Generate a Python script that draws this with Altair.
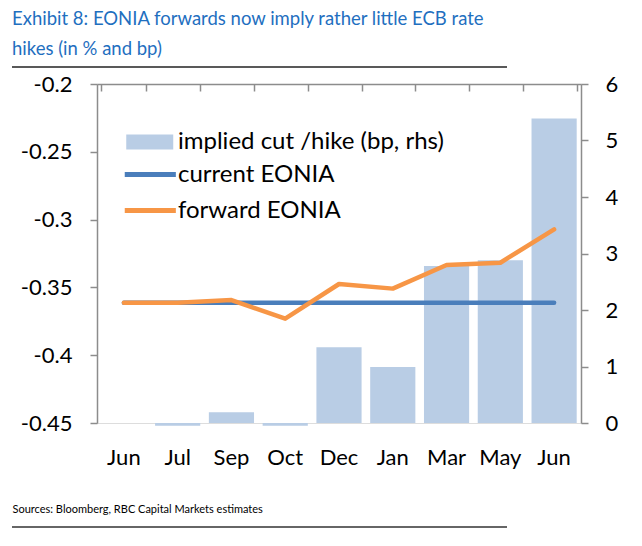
import altair as alt
import pandas as pd

# ---- data ----
months = ["Jun", "Jul", "Sep", "Oct", "Dec", "Jan", "Mar", "May", "Jun"]
implied_bp = [0.0, -0.05, 0.19, -0.05, 1.34, 0.99, 2.78, 2.88, 5.39]
current_eonia = [-0.3613, -0.3613, -0.3613, -0.3613, -0.3613, -0.3613, -0.3613, -0.3613, -0.3613]
forward_eonia = [-0.3613, -0.3613, -0.3593, -0.3731, -0.3475, -0.3509, -0.3335, -0.3318, -0.3072]
left_ticks = [-0.45, -0.4, -0.35, -0.3, -0.25, -0.2]
right_ticks = [0, 1, 2, 3, 4, 5, 6]
bar_name = "implied cut /hike (bp, rhs)"
line_names = ["current EONIA", "forward EONIA"]
title_lines = ["Exhibit 8: EONIA forwards now imply rather little ECB rate", "hikes (in % and bp)"]
source_text = "Sources: Bloomberg, RBC Capital Markets estimates"

df = pd.DataFrame({
    "idx": list(range(len(months))),
    "implied": implied_bp,
    line_names[0]: current_eonia,
    line_names[1]: forward_eonia,
})
df["bar_series"] = bar_name

label_expr = "[" + ",".join("'%s'" % m for m in months) + "][datum.value]"

W, H = 484, 339
FONT = "Lato"
AX = "#8c8c8c"
BLUE = "#4A7EBB"
ORANGE = "#F79646"
BAR = "#B9CDE5"

xscale = alt.Scale(paddingInner=0.16, paddingOuter=0.08)

bars = alt.Chart(df).mark_bar(color=BAR).encode(
    x=alt.X("idx:O", scale=xscale,
            axis=alt.Axis(orient="bottom", labelExpr=label_expr, labelAngle=0, domain=False,
                          ticks=False, labelPadding=24, labelFontSize=22, labelColor="black",
                          labelFont=FONT, title=source_text, titleX=-85, titleY=89,
                          titleAlign="left", titleBaseline="alphabetic", titleFontSize=11,
                          titleFontWeight="normal", titleFont=FONT, titleColor="black")),
    y=alt.Y("implied:Q", scale=alt.Scale(domain=[0, 6], nice=False),
            axis=alt.Axis(orient="right", values=right_ticks, grid=False, domainColor=AX,
                          domainWidth=1.5, tickColor=AX, tickWidth=1.5, tickSize=7,
                          labelPadding=17, labelFontSize=22, labelColor="black",
                          labelFont=FONT, title=None)),
    color=alt.Color("bar_series:N", scale=alt.Scale(domain=[bar_name], range=[BAR]),
                    legend=alt.Legend(orient="none", legendX=29, legendY=46, title=None,
                                      symbolType="M-1,-0.64H3V0.64H-1Z", symbolSize=552,
                                      symbolStrokeWidth=0, labelFontSize=24, labelFont=FONT,
                                      labelColor="black", labelOffset=28, labelLimit=400,
                                      padding=0)),
)

lines = alt.Chart(df).transform_fold(line_names, as_=["series", "value"]).mark_line(
    strokeWidth=4.5, strokeCap="round", strokeJoin="round"
).encode(
    x=alt.X("idx:O", scale=xscale,
            axis=alt.Axis(orient="bottom", offset=-H, labels=False, domain=True, ticks=True,
                          tickBand="extent", tickSize=7, domainColor=AX, domainWidth=1.5,
                          tickColor=AX, tickWidth=1.5, title=None)),
    y=alt.Y("value:Q", scale=alt.Scale(domain=[-0.45, -0.2], nice=False, zero=False),
            axis=alt.Axis(orient="left", values=left_ticks, labelExpr="toString(datum.value)",
                          grid=False, domainColor=AX, domainWidth=1.5, tickColor=AX,
                          tickWidth=1.5, tickSize=7, labelPadding=18, labelFontSize=22,
                          labelColor="black", labelFont=FONT, title=None)),
    color=alt.Color("series:N", scale=alt.Scale(domain=line_names, range=[BLUE, ORANGE]),
                    legend=alt.Legend(orient="none", legendX=25, legendY=76, title=None,
                                      symbolType="M-1,0H3.35", symbolSize=552,
                                      symbolStrokeWidth=5, labelFontSize=24, labelFont=FONT,
                                      labelColor="black", labelOffset=27, labelLimit=400,
                                      rowPadding=9, padding=0)),
    detail="series:N",
)

one = alt.Data(values=[{"k": 1}])
rule_top = alt.Chart(one).mark_rule(color="#222", strokeWidth=1.5).encode(
    x=alt.value(-85), x2=alt.value(410), y=alt.value(-17))
rule_bot = alt.Chart(one).mark_rule(color="#333", strokeWidth=1.5).encode(
    x=alt.value(-85), x2=alt.value(410), y=alt.value(443))

chart = alt.layer(bars, lines, rule_top, rule_bot).resolve_scale(
    y="independent", color="independent"
).resolve_axis(x="independent").properties(
    width=W, height=H,
    padding={"left": 89, "top": 76, "right": 53, "bottom": 111},
    autosize=alt.AutoSizeParams(type="none"),
    title=alt.TitleParams(text=title_lines, anchor="start", frame="group", dx=-85,
                          fontSize=18.5, font=FONT, fontWeight="normal", color="#1F6FBF",
                          lineHeight=30, offset=-7, baseline="alphabetic"),
).configure_view(stroke=None).configure(background="white")

chart.save("out.html", embed_options={"renderer": "svg", "actions": False})
